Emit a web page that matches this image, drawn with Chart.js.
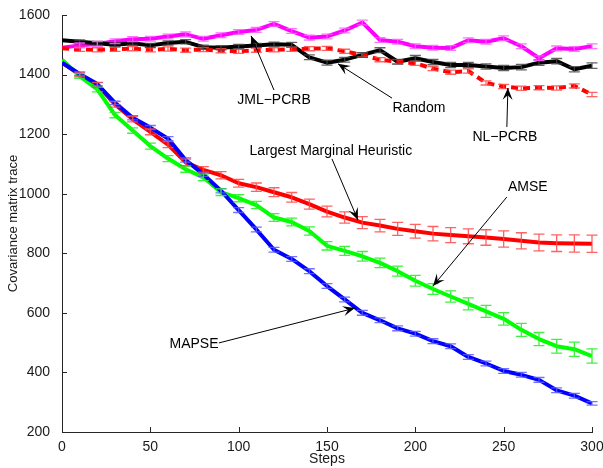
<!DOCTYPE html>
<html>
<head>
<meta charset="utf-8">
<script src="https://cdn.jsdelivr.net/npm/chart.js@4.4.0/dist/chart.umd.min.js"></script>
<style>
  html, body { margin: 0; padding: 0; background: #fff; }
</style>
</head>
<body>
<canvas id="traceChart" width="603" height="468"></canvas>
<script>
// values, one per 10 steps
const steps = [0,10,20,30,40,50,60,70,80,90,100,110,120,130,140,150,160,170,180,190,200,210,220,230,240,250,260,270,280,290,300];
const xTicks = [0,50,100,150,200,250,300];
const yTicks = [200,400,600,800,1000,1200,1400,1600];

const jmlPcrb = [1490,1498,1503,1512,1519,1520,1528,1535,1520,1532,1543,1550,1570,1546,1524,1528,1548,1575,1516,1510,1495,1490,1489,1515,1510,1522,1495,1455,1488,1486,1495];
const randomSel = [1515,1510,1505,1500,1505,1498,1506,1510,1492,1490,1494,1498,1502,1500,1458,1440,1450,1466,1482,1443,1455,1442,1432,1432,1427,1422,1425,1440,1445,1418,1430];
const nlPcrb = [1488,1485,1483,1485,1487,1483,1486,1482,1484,1480,1478,1482,1483,1485,1487,1488,1478,1466,1450,1443,1438,1420,1408,1412,1372,1360,1354,1356,1355,1362,1333];
const largestMarginal = [1440,1400,1365,1300,1250,1208,1165,1105,1080,1062,1035,1022,1005,988,965,940,920,903,893,882,874,866,861,857,853,848,842,836,834,833,832];
const amse = [1450,1395,1350,1264,1212,1160,1118,1082,1055,1005,985,962,920,905,875,825,808,790,768,740,708,680,655,630,605,580,543,512,488,478,455];
const mapse = [1440,1402,1368,1305,1255,1222,1185,1113,1065,1010,945,880,812,781,740,690,645,600,575,548,530,505,488,452,430,405,392,375,340,322,296];

// half height of the error bars
const jmlErr = [0,8,8,8,8,8,8,8,8,8,8,8,8,8,8,8,8,8,8,8,8,8,8,8,8,8,8,8,8,8,8];
const randomErr = [0,6,6,6,6,7,7,7,7,7,7,7,7,8,8,8,8,8,8,8,9,9,9,9,9,9,9,9,9,9,9];
const nlErr = [0,7,7,7,7,7,7,7,7,7,7,7,7,7,7,7,7,7,7,7,7,7,7,7,7,7,7,7,7,7,7];
const lmErr = [0,8,8,9,9,10,10,11,11,12,13,14,15,16,17,18,19,20,21,22,23,24,25,25,26,27,27,28,28,29,29];
const amseErr = [0,8,8,9,9,10,10,10,11,11,12,12,13,13,14,14,15,16,16,17,18,18,19,20,20,21,22,22,23,24,24];
const mapseErr = [0,6,6,6,7,7,7,7,7,7,8,8,8,8,8,8,8,8,8,8,8,8,8,8,8,8,8,8,8,8,6];

const FONT = '"Liberation Sans", Arial, Helvetica, sans-serif';

// text labels with arrows, in data units: text position, line start, arrow tip
const notes = [
    { text: 'JML\u2212PCRB', tx: 120, ty: 1315, sx: 120, sy: 1348, ex: 107, ey: 1530 },
    { text: 'Random', tx: 202, ty: 1288, sx: 186.8, sy: 1321, ex: 156.2, ey: 1436 },
    { text: 'NL\u2212PCRB', tx: 250.7, ty: 1190, sx: 251.8, sy: 1224, ex: 252.4, ey: 1355 },
    { text: 'Largest Marginal Heuristic', tx: 152.2, ty: 1143, sx: 152.8, sy: 1117, ex: 167.5, ey: 912 },
    { text: 'AMSE', tx: 263.7, ty: 1023, sx: 251.8, sy: 989, ex: 210, ey: 690 },
    { text: 'MAPSE', tx: 74.7, ty: 496, sx: 88.8, sy: 499, ex: 165.8, ey: 616 }
];

function pts(values) {
    return steps.map((s, i) => ({ x: s, y: values[i] }));
}

function series(label, values, err, color, barColor, dash) {
    return {
        label: label,
        data: pts(values),
        err: err,
        barColor: barColor,
        borderColor: color,
        backgroundColor: color,
        borderWidth: 4,
        borderDash: dash || [],
        borderJoinStyle: 'round',
        pointRadius: 0,
        tension: 0,
        fill: false
    };
}

const errorBars = {
    id: 'errorBars',
    afterDatasetsDraw(chart) {
        const ctx = chart.ctx;
        const xs = chart.scales.x, ys = chart.scales.y;
        ctx.save();
        ctx.lineWidth = 1.3;
        chart.data.datasets.forEach(ds => {
            ctx.strokeStyle = ds.barColor;
            ds.data.forEach((p, i) => {
                const e = ds.err[i];
                if (!e) return;
                const px = xs.getPixelForValue(p.x);
                const top = ys.getPixelForValue(p.y + e);
                const bot = ys.getPixelForValue(p.y - e);
                ctx.beginPath();
                ctx.moveTo(px, top); ctx.lineTo(px, bot);
                ctx.moveTo(px - 5.5, top); ctx.lineTo(px + 5.5, top);
                ctx.moveTo(px - 5.5, bot); ctx.lineTo(px + 5.5, bot);
                ctx.stroke();
            });
        });
        ctx.restore();
    }
};

const axisTicks = {
    id: 'axisTicks',
    afterDraw(chart) {
        const ctx = chart.ctx;
        const xs = chart.scales.x, ys = chart.scales.y;
        const a = chart.chartArea;
        ctx.save();
        ctx.strokeStyle = '#262626';
        ctx.lineWidth = 1;
        ctx.beginPath();
        xTicks.forEach(t => {
            const px = Math.round(xs.getPixelForValue(t)) + 0.5;
            ctx.moveTo(px, a.bottom); ctx.lineTo(px, a.bottom - 5);
        });
        yTicks.forEach(t => {
            const py = Math.round(ys.getPixelForValue(t)) + 0.5;
            ctx.moveTo(a.left, py); ctx.lineTo(a.left + 5, py);
        });
        ctx.stroke();

        // annotations
        ctx.fillStyle = '#000';
        ctx.strokeStyle = '#000';
        ctx.font = '14px ' + FONT;
        ctx.textAlign = 'center';
        ctx.textBaseline = 'middle';
        notes.forEach(n => {
            ctx.fillText(n.text, xs.getPixelForValue(n.tx), ys.getPixelForValue(n.ty));
            const x1 = xs.getPixelForValue(n.sx), y1 = ys.getPixelForValue(n.sy);
            const x2 = xs.getPixelForValue(n.ex), y2 = ys.getPixelForValue(n.ey);
            ctx.beginPath();
            ctx.moveTo(x1, y1); ctx.lineTo(x2, y2);
            ctx.lineWidth = 1;
            ctx.stroke();
            const ang = Math.atan2(y2 - y1, x2 - x1);
            const len = 12, half = 5;
            const bx = x2 - len * Math.cos(ang), by = y2 - len * Math.sin(ang);
            const nx = x2 - 0.6 * len * Math.cos(ang), ny = y2 - 0.6 * len * Math.sin(ang);
            ctx.beginPath();
            ctx.moveTo(x2, y2);
            ctx.lineTo(bx + half * Math.sin(ang), by - half * Math.cos(ang));
            ctx.lineTo(nx, ny);
            ctx.lineTo(bx - half * Math.sin(ang), by + half * Math.cos(ang));
            ctx.closePath();
            ctx.fill();
        });
        ctx.restore();
    }
};

const ctx = document.getElementById('traceChart').getContext('2d');
new Chart(ctx, {
    type: 'line',
    data: {
        datasets: [
            series('MAPSE', mapse, mapseErr, '#0000ff', 'rgba(90,90,255,0.85)'),
            series('AMSE', amse, amseErr, '#00ff00', 'rgba(40,240,40,0.9)'),
            series('Largest Marginal Heuristic', largestMarginal, lmErr, '#ff0000', 'rgba(255,70,70,0.85)'),
            series('NL-PCRB', nlPcrb, nlErr, '#ff0000', 'rgba(255,70,70,0.85)', [7, 5]),
            series('Random', randomSel, randomErr, '#000000', 'rgba(70,70,70,0.85)'),
            series('JML-PCRB', jmlPcrb, jmlErr, '#ff00ff', 'rgba(255,90,255,0.85)')
        ]
    },
    options: {
        responsive: false,
        animation: false,
        devicePixelRatio: 1,
        layout: { padding: { top: 15, right: 11, left: 0, bottom: 0 } },
        plugins: {
            legend: { display: false },
            tooltip: { enabled: false }
        },
        scales: {
            x: {
                type: 'linear',
                min: 0,
                max: 300,
                afterFit: s => { s.height = 36; },
                afterBuildTicks: s => { s.ticks = xTicks.map(v => ({ value: v })); },
                grid: { display: false },
                border: { display: true, color: '#262626', width: 1 },
                ticks: { color: '#1a1a1a', font: { family: FONT, size: 14 }, padding: -1, maxRotation: 0, callback: v => String(v) },
                title: { display: true, text: 'Steps', color: '#1a1a1a', font: { family: FONT, size: 14 }, padding: { top: 0, bottom: 0 } }
            },
            y: {
                min: 200,
                max: 1600,
                afterFit: s => { s.width = 62; },
                afterBuildTicks: s => { s.ticks = yTicks.map(v => ({ value: v })); },
                grid: { display: false },
                border: { display: true, color: '#262626', width: 1 },
                ticks: { color: '#1a1a1a', font: { family: FONT, size: 14 }, padding: 4, callback: v => String(v) },
                title: { display: true, text: 'Covariance matrix trace', color: '#1a1a1a', font: { family: FONT, size: 13 }, padding: { top: 6, bottom: 0 } }
            }
        }
    },
    plugins: [errorBars, axisTicks]
});
</script>
</body>
</html>
